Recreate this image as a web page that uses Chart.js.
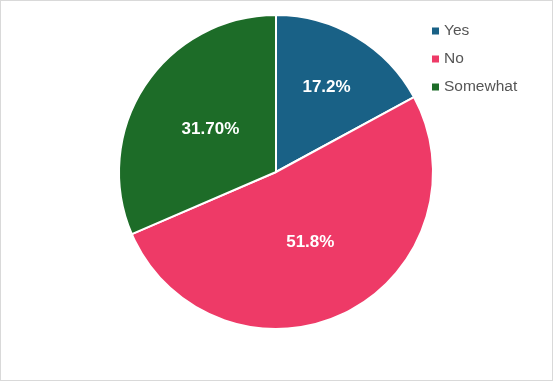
<!DOCTYPE html>
<html>
<head>
<meta charset="utf-8">
<script src="https://cdn.jsdelivr.net/npm/chart.js@4"></script>
<style>
  html, body { margin: 0; padding: 0; background: #fff; }
  #wrap { width: 554px; height: 382px; position: relative; }
</style>
</head>
<body>
<div id="wrap"><canvas id="pie-chart" width="554" height="382"></canvas></div>
<script>
const categories = ["Yes", "No", "Somewhat"];
const shares = [17.2, 51.8, 31.7];
const shareLabels = ["17.2%", "51.8%", "31.70%"];
const sliceColors = ["#196186", "#EE3A67", "#1D6C28"];

// how far out (fraction of radius) each slice label sits
const labelDist = [0.63, 0.5, 0.5];

const sliceLabels = {
    id: 'sliceLabels',
    afterDatasetsDraw(chart) {
        const ctx = chart.ctx;
        const meta = chart.getDatasetMeta(0);
        ctx.save();
        ctx.font = "bold 17px 'Liberation Sans', Arial, sans-serif";
        ctx.fillStyle = "#ffffff";
        ctx.textAlign = "center";
        ctx.textBaseline = "middle";
        meta.data.forEach((arc, i) => {
            const mid = (arc.startAngle + arc.endAngle) / 2;
            const r = arc.outerRadius * labelDist[i];
            ctx.fillText(shareLabels[i], arc.x + Math.cos(mid) * r, arc.y + Math.sin(mid) * r);
        });
        ctx.restore();
    }
};

const sideLegend = {
    id: 'sideLegend',
    afterDraw(chart) {
        const ctx = chart.ctx;
        ctx.save();
        ctx.font = "15.5px 'Liberation Sans', Arial, sans-serif";
        ctx.textBaseline = "middle";
        categories.forEach((name, i) => {
            const y = 31 + i * 28;
            ctx.fillStyle = sliceColors[i];
            ctx.fillRect(432, y - 3.5, 7, 7);
            ctx.fillStyle = "#555555";
            ctx.fillText(name, 444, y);
        });
        // chart frame
        ctx.strokeStyle = "#d9d9d9";
        ctx.lineWidth = 1;
        ctx.strokeRect(0.5, 0.5, 552, 380);
        ctx.restore();
    }
};

const chart = new Chart(document.getElementById('pie-chart'), {
    type: 'pie',
    data: {
        labels: categories,
        datasets: [{
            data: shares,
            backgroundColor: sliceColors,
            borderColor: "#ffffff",
            borderWidth: 2,
            hoverOffset: 0
        }]
    },
    options: {
        responsive: false,
        animation: false,
        layout: {
            padding: { left: 118, right: 120, top: 14, bottom: 52 }
        },
        plugins: {
            legend: { display: false },
            tooltip: { enabled: false }
        }
    },
    plugins: [sliceLabels, sideLegend]
});
</script>
</body>
</html>
